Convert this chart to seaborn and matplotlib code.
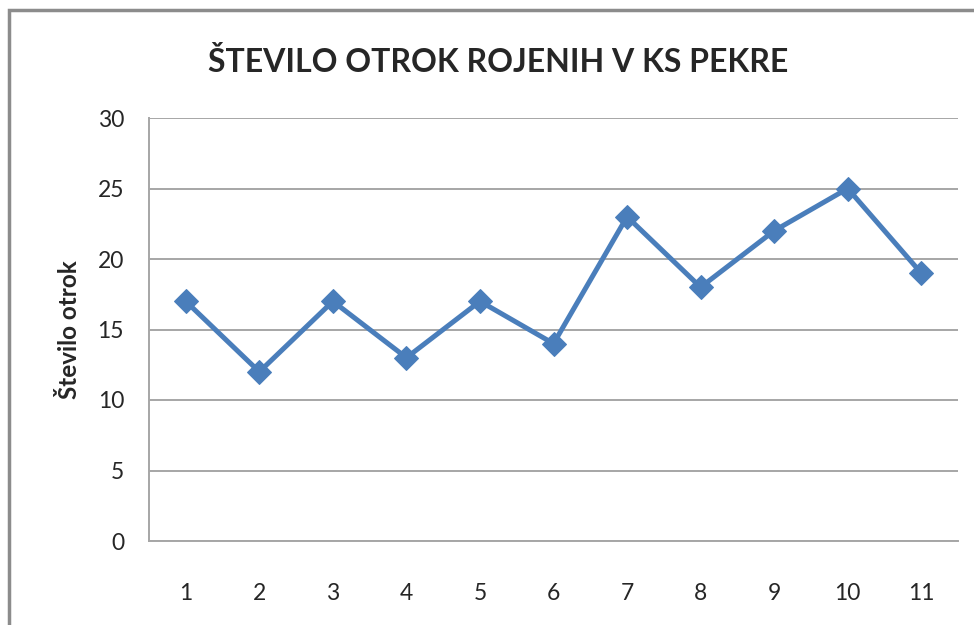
import matplotlib
matplotlib.use("Agg")
import matplotlib.pyplot as plt
import seaborn as sns
import pandas as pd
from matplotlib.patches import Rectangle

# --- DATEN ---
leta = [1, 2, 3, 4, 5, 6, 7, 8, 9, 10, 11]
stevilo_otrok = [17, 12, 17, 13, 17, 14, 23, 18, 22, 25, 19]
y_ticks = [0, 5, 10, 15, 20, 25, 30]

naslov = "ŠTEVILO OTROK ROJENIH V KS PEKRE"
y_oznaka = "Število otrok"

df = pd.DataFrame({"x": range(len(leta)), "vrednost": stevilo_otrok})

sns.set_style("white")
plt.rcParams["font.family"] = ["Lato", "DejaVu Sans"]

fig = plt.figure(figsize=(9.74, 6.25), dpi=100)
ax = fig.add_axes([0.153, 0.1344, 0.8306, 0.6768])

sns.lineplot(data=df, x="x", y="vrednost", ax=ax, color="#4A7EBB",
             linewidth=3.6, marker="D", markersize=12, markeredgecolor="#4A7EBB")

ax.set_xlim(-0.5, len(leta) - 0.5)
ax.set_ylim(0, 30)
ax.set_yticks(y_ticks)
ax.set_xticks(range(len(leta)))
ax.set_xticklabels([str(v) for v in leta])
ax.tick_params(axis="both", length=0, labelsize=16.5, colors="#262626")
ax.tick_params(axis="x", pad=30)
ax.tick_params(axis="y", pad=18)
ax.yaxis.grid(True, color="#A6A6A6", linewidth=1.4)
ax.set_axisbelow(True)

for s in ["top", "right"]:
    ax.spines[s].set_visible(False)
for s in ["left", "bottom"]:
    ax.spines[s].set_color("#A6A6A6")
    ax.spines[s].set_linewidth(1.4)

ax.set_xlabel("")
ax.set_ylabel(y_oznaka, fontsize=17.5, fontweight="bold", labelpad=12)

fig.text(0.511, 0.9, naslov, ha="center", va="center",
         fontsize=23, fontweight="bold")

# okvir grafikona (desni in spodnji rob izven slike)
fig.patches.append(Rectangle((9 / 974, -0.05), 1.1, 1 - 10 / 625 + 0.05,
                             transform=fig.transFigure, fill=False,
                             edgecolor="#8C8C8C", linewidth=2.5))

fig.savefig("out.png", dpi=100)
